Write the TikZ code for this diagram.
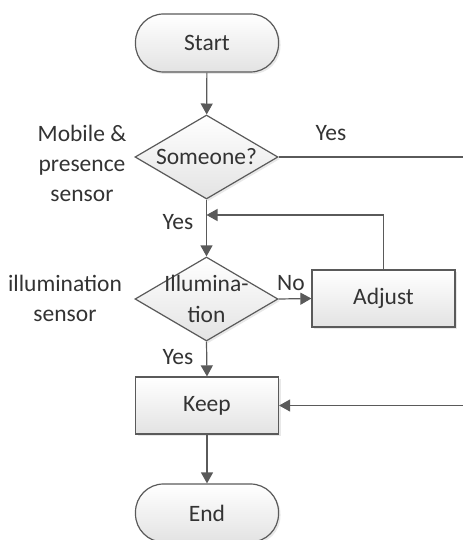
\documentclass[tikz,border=0pt]{standalone}
\usepackage{fontspec}
\setmainfont{Carlito}
\usetikzlibrary{shapes.geometric,arrows.meta,shadows}
\definecolor{edge}{HTML}{5A5A5A}
\definecolor{txt}{HTML}{333333}
\begin{document}
\begin{tikzpicture}[x=0.5pt,y=-0.5pt,
  font=\fontsize{11.75}{15}\selectfont, text=txt,
  base/.style={draw=edge, line width=0.6pt, top color=white, bottom color=gray!22,
    drop shadow={opacity=0.18, shadow xshift=1pt, shadow yshift=-1pt}},
  term/.style={base, rectangle, rounded corners=14pt, minimum width=71.5pt, minimum height=29pt, inner sep=0pt},
  proc/.style={base, rectangle, minimum width=71.5pt, minimum height=28.5pt, inner sep=0pt},
  dia/.style={base, diamond, minimum width=71.5pt, minimum height=42pt, inner sep=0pt},
  conn/.style={draw=edge, line width=0.6pt},
  arr/.style={conn, -{Triangle[width=6pt,length=5.5pt]}},
  lbl/.style={align=center, inner sep=0pt}]
\path[use as bounding box] (0,0) rectangle (462,540);

\node[term] (start) at (207,43) {Start};
\node[dia] (d1) at (206.5,157) {};
\node[lbl] (d1t) at (d1) {Someone?};
\node[dia] (d2) at (206.5,299) {};
\node[lbl, font=\fontsize{11.75}{15.5}\selectfont] (d2t) at (206.5,299) {Illumina-\\tion};
\node[proc] (adjust) at (383.5,298.5) {Adjust};
\node[proc] (keep) at (207,405.5) {Keep};
\node[term] (end) at (207,513) {End};

\coordinate (r1) at (463,157);
\coordinate (r2) at (463,405.5);
\coordinate (j) at (206.5,215);
\coordinate (a1) at (383.5,215);

\draw[arr] (start) -- (d1);
\draw[conn] (d1.east) -- (r1);
\draw[arr] (r2) -- (keep.east);
\draw[arr] (d1.south) -- (d2.north);
\draw[conn] (adjust.north) -- (a1);
\draw[arr] (a1) -- (j);
\draw[arr] (d2.east) -- (adjust.west);
\draw[arr] (d2.south) -- (keep.north);
\draw[arr] (keep.south) -- (end.north);

\node[lbl] (y1) at (331,133) {Yes};
\node[lbl] (y2) at (178,222) {Yes};
\node[lbl] (no) at (291,283) {No};
\node[lbl] (y3) at (178,357) {Yes};
\node[lbl, font=\fontsize{11.75}{15}\selectfont] (s1) at (82,163) {Mobile \&\\presence\\sensor};
\node[lbl, font=\fontsize{11.75}{15}\selectfont] (s2) at (65,298) {illumination\\sensor};
\end{tikzpicture}
\end{document}
